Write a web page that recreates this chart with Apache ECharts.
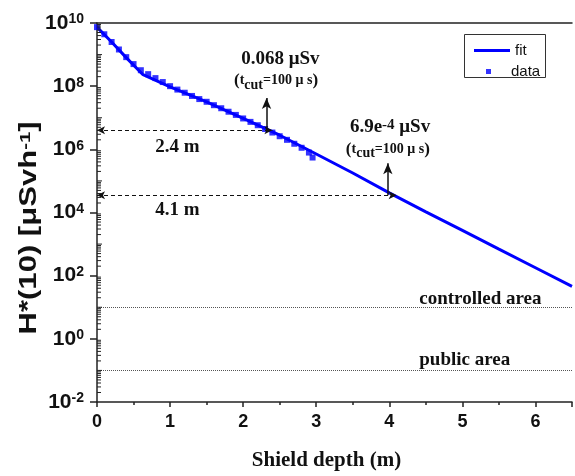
<!DOCTYPE html>
<html>
<head>
<meta charset="utf-8">
<script src="https://cdn.jsdelivr.net/npm/echarts@6/dist/echarts.min.js"></script>
<style>
  html, body { margin: 0; padding: 0; background: #fff; }
  #chart { width: 575px; height: 476px; }
</style>
</head>
<body>
<div id="chart"></div>
<script>
// Measured dose rate behind the shield (points) and the fitted attenuation curve
const dataDepth = [0, 0.1, 0.2, 0.3, 0.4, 0.5, 0.6, 0.7, 0.8, 0.9, 1.0, 1.1, 1.2, 1.3, 1.4, 1.5,
                   1.6, 1.7, 1.8, 1.9, 2.0, 2.1, 2.2, 2.3, 2.4, 2.5, 2.6, 2.7, 2.8, 2.9, 2.95];
const dataDose = [7.4e9, 4.4e9, 2.5e9, 1.45e9, 8.3e8, 5.0e8, 3.2e8, 2.4e8, 1.8e8, 1.35e8, 1.0e8,
                  7.8e7, 6.2e7, 4.9e7, 3.9e7, 3.2e7, 2.5e7, 2.0e7, 1.55e7, 1.23e7, 9.5e6, 7.4e6,
                  5.8e6, 4.4e6, 3.4e6, 2.6e6, 2.0e6, 1.5e6, 1.12e6, 7.9e5, 5.5e5];

const fitDepth = [0, 0.2, 0.4, 0.63, 1.0, 1.5, 2.0, 2.5, 3.0, 3.5, 4.0, 4.5, 5.0, 5.5, 6.0, 6.5];
const fitDose = [7.4e9, 2.5e9, 8.0e8, 2.3e8, 9.5e7, 3.2e7, 9.5e6, 2.8e6, 7.1e5, 1.78e5, 4.2e4,
                 1.05e4, 2.7e3, 6.9e2, 1.78e2, 46];

// Required thicknesses and the dose levels they reach
const cutDepth = [2.4, 4.1];
const cutDose = [4.0e6, 3.5e4];
const cutLabels = ['2.4 m', '4.1 m'];
const pulseDoseLabels = ['0.068 μSv', '6.9e{sup|-4} μSv'];

// Area limits (μSv/h)
const limitDose = [10, 0.1];
const limitLabels = ['controlled area', 'public area'];

// Axis ticks and titles
const xTickLabels = ['0', '1', '2', '3', '4', '5', '6'];
const yTickExponents = [-2, 0, 2, 4, 6, 8, 10];
const yTitle = '{t|H*(10) [μSvh}{s|-1}{t|]}';

const SANS = '"Liberation Sans", Arial, sans-serif';
const SERIF = '"Liberation Serif", "Times New Roman", serif';
const BLUE = '#0000ff';

const zip = (xs, ys) => xs.map((x, i) => [x, ys[i]]);

// minor log ticks (2..9 within each decade, plus the odd decades)
const minorTicks = [];
for (let d = -2; d < 10; d++) {
  for (let m = 1; m <= 9; m++) {
    if (m === 1 && d % 2 === 0) continue;
    minorTicks.push([0, m * Math.pow(10, d), m === 1 ? 1 : 0]);
  }
}

const tcutRich = {
  p: { fontFamily: SERIF, fontSize: 17, color: '#111' },
  t: { fontFamily: SERIF, fontSize: 14, fontWeight: 'bold', color: '#111' },
  sub: { fontFamily: SERIF, fontSize: 14, fontWeight: 'bold', color: '#111', verticalAlign: 'bottom', padding: [9, 0, 0, 0] }
};
const tcutText = '{p|(}{t|t}{sub|cut}{t|=100 μ s}{p|)}';

const noteLabel = (text, size, extra) => Object.assign({
  show: true, position: 'inside', color: '#111',
  fontFamily: SERIF, fontWeight: 'bold', fontSize: size, formatter: text
}, extra || {});

const chart = echarts.init(document.getElementById('chart'), null, { renderer: 'canvas' });

chart.setOption({
  animation: false,
  backgroundColor: '#fff',
  grid: { left: 97, right: 0, top: 23, bottom: 63, containLabel: false },
  legend: [
    {
      data: [{ name: 'fit', icon: 'rect' }],
      left: 469, top: 38, itemWidth: 36, itemHeight: 3, itemGap: 3,
      textStyle: { fontFamily: SANS, fontSize: 15, color: '#111' },
      selectedMode: false
    },
    {
      data: [{ name: 'data', icon: 'rect' }],
      left: 481, top: 59, itemWidth: 5, itemHeight: 5, itemGap: 4,
      textStyle: { fontFamily: SANS, fontSize: 15, color: '#111', padding: [0, 0, 0, 15] },
      selectedMode: false
    }
  ],
  graphic: [
    { type: 'rect', left: 462, top: 32, shape: { width: 81, height: 43 },
      style: { fill: 'none', stroke: '#333', lineWidth: 1 }, z: 10 },
    // y-axis title, set in a tall narrow face along the axis
    {
      type: 'text', x: 30, y: 228, rotation: Math.PI / 2, scaleX: 1.35, scaleY: 1,
      style: {
        text: yTitle, align: 'center', verticalAlign: 'middle',
        rich: {
          t: { fontFamily: SANS, fontWeight: 'bold', fontSize: 23, fill: '#111' },
          s: { fontFamily: SANS, fontWeight: 'bold', fontSize: 15, fill: '#111', verticalAlign: 'top' }
        }
      },
      z: 10
    }
  ],
  xAxis: [
    {
      type: 'value', min: 0, max: 6.5, interval: 1,
      name: 'Shield depth (m)', nameLocation: 'middle', nameGap: 48,
      nameTextStyle: { fontFamily: SERIF, fontWeight: 'bold', fontSize: 21, color: '#111', padding: [0, 16, 0, 0] },
      axisLine: { lineStyle: { color: '#222', width: 1.5 } },
      axisTick: { length: 5, lineStyle: { color: '#222', width: 1.5 } },
      minorTick: { show: true, splitNumber: 2, length: 3, lineStyle: { color: '#222', width: 1.5 } },
      axisLabel: {
        margin: 11, fontFamily: SANS, fontWeight: 'bold', fontSize: 18, color: '#111',
        formatter: v => (Number.isInteger(v) ? xTickLabels[v] : '')
      },
      splitLine: { show: false }
    },
    {
      type: 'value', position: 'top', min: 0, max: 6.5,
      axisLine: { show: true, lineStyle: { color: '#222', width: 1.5 } },
      axisTick: { show: false }, axisLabel: { show: false }, splitLine: { show: false }
    }
  ],
  yAxis: {
    type: 'log', logBase: 10, min: 0.01, max: 1e10, interval: 2,
    axisLine: { show: true, lineStyle: { color: '#222', width: 1.5 } },
    axisTick: { length: 7, lineStyle: { color: '#222', width: 1.5 } },
    axisLabel: {
      margin: 13,
      formatter: v => {
        const e = Math.round(Math.log10(v));
        return yTickExponents.indexOf(e) >= 0 ? '{b|10}{s|' + e + '}' : '';
      },
      rich: {
        b: { fontFamily: SANS, fontWeight: 'bold', fontSize: 21, color: '#111' },
        s: { fontFamily: SANS, fontWeight: 'bold', fontSize: 14, color: '#111', verticalAlign: 'top' }
      }
    },
    splitLine: { show: false }
  },
  series: [
    {
      name: 'fit', type: 'line', data: zip(fitDepth, fitDose),
      showSymbol: false, symbol: 'none', color: BLUE,
      lineStyle: { color: BLUE, width: 3 }, z: 3,
      markLine: {
        silent: true, animation: false, symbol: 'none',
        label: { show: false },
        data: [
          // area limits
          [{ coord: [0, limitDose[0]], lineStyle: { type: 'dotted', color: '#555', width: 1 } },
           { coord: [6.5, limitDose[0]] }],
          [{ coord: [0, limitDose[1]], lineStyle: { type: 'dotted', color: '#555', width: 1 } },
           { coord: [6.5, limitDose[1]] }],
          // required thickness arrows
          [{ coord: [0, cutDose[0]], symbol: 'arrow', symbolSize: [6, 8],
             lineStyle: { type: [4, 3], color: '#111', width: 1 } },
           { coord: [cutDepth[0], cutDose[0]], symbol: 'arrow', symbolSize: [6, 8] }],
          [{ coord: [0, cutDose[1]], symbol: 'arrow', symbolSize: [6, 8],
             lineStyle: { type: [4, 3], color: '#111', width: 1 } },
           { coord: [cutDepth[1], cutDose[1]], symbol: 'arrow', symbolSize: [6, 8] }],
          // dose-per-pulse pointers
          [{ coord: [2.32, cutDose[0]], symbol: 'none', lineStyle: { type: 'solid', color: '#111', width: 1.5 } },
           { coord: [2.32, 4.2e7], symbol: 'arrow', symbolSize: [7, 11] }],
          [{ coord: [3.98, cutDose[1]], symbol: 'none', lineStyle: { type: 'solid', color: '#111', width: 1.5 } },
           { coord: [3.98, 3.6e5], symbol: 'arrow', symbolSize: [7, 11] }]
        ]
      },
      markPoint: {
        silent: true, animation: false, symbol: 'circle', symbolSize: 0,
        data: [
          { coord: [2.51, 7.1e8], label: noteLabel(pulseDoseLabels[0], 19) },
          { coord: [2.45, 1.5e8], label: noteLabel(tcutText, 14, { rich: tcutRich }) },
          { coord: [4.01, 5.0e6], label: noteLabel(pulseDoseLabels[1], 19, {
              rich: { sup: { fontFamily: SERIF, fontWeight: 'bold', fontSize: 15, color: '#111', verticalAlign: 'top' } } }) },
          { coord: [3.98, 1.0e6], label: noteLabel(tcutText, 14, { rich: tcutRich }) },
          { coord: [1.10, 1.2e6], label: noteLabel(cutLabels[0], 19) },
          { coord: [1.10, 1.2e4], label: noteLabel(cutLabels[1], 19) },
          { coord: [4.41, 17.8], label: noteLabel(limitLabels[0], 19, { position: 'right', distance: 0 }) },
          { coord: [4.41, 0.22], label: noteLabel(limitLabels[1], 19, { position: 'right', distance: 0 }) }
        ]
      }
    },
    {
      name: 'data', type: 'scatter', data: zip(dataDepth, dataDose),
      symbol: 'rect', symbolSize: 6, color: BLUE,
      itemStyle: { color: BLUE }, z: 4
    },
    {
      // minor ticks of the logarithmic axis, drawn inside the frame
      type: 'custom', data: minorTicks, silent: true, clip: false, z: 6,
      renderItem: (params, api) => {
        const p = api.coord([0, api.value(1)]);
        const len = api.value(2) ? 5 : 4;
        return {
          type: 'line',
          shape: { x1: p[0], y1: p[1], x2: p[0] + len, y2: p[1] },
          style: { stroke: '#222', lineWidth: 1 }
        };
      }
    }
  ]
});
</script>
</body>
</html>
